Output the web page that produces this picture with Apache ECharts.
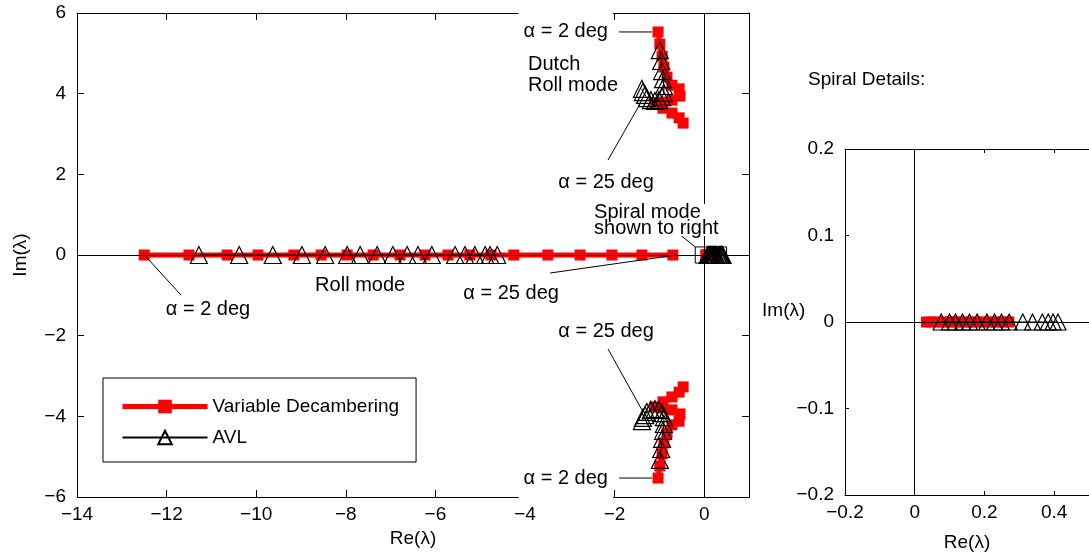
<!DOCTYPE html>
<html>
<head>
<meta charset="utf-8">
<script src="https://cdn.jsdelivr.net/npm/echarts@6/dist/echarts.min.js"></script>
<style>
html, body { margin: 0; padding: 0; background: #fff; }
#chart { width: 1089px; height: 558px; }
</style>
</head>
<body>
<div id="chart"></div>
<script>
var rollVD = [-12.50, -11.50, -10.65, -9.96, -9.16, -8.55, -7.97, -7.39, -6.79, -6.23, -5.72, -5.23, -4.76, -4.25, -3.49, -2.77, -2.06, -1.39, -0.70];
var rollAVL = [-11.28, -10.38, -9.63, -8.98, -8.46, -7.97, -7.68, -7.30, -6.95, -6.63, -6.39, -6.08, -5.56, -5.34, -5.12, -4.89, -4.78, -4.62];

var dutchVDRe = [-1.03, -0.99, -0.94, -0.90, -0.83, -0.72, -0.56, -0.54, -0.72, -0.94, -1.10, -0.92, -0.72, -0.56, -0.47];
var dutchVDIm = [5.53, 5.23, 4.93, 4.66, 4.41, 4.21, 4.12, 3.94, 3.84, 3.79, 3.77, 3.64, 3.52, 3.40, 3.27];
var dutchVDImLow = [-5.53, -5.23, -4.93, -4.66, -4.41, -4.21, -4.12, -3.94, -3.84, -3.79, -3.77, -3.64, -3.52, -3.40, -3.27];

var dutchAVLRe = [-0.99, -0.96, -0.94, -0.92, -0.90, -0.90, -0.94, -1.01, -1.10, -1.19, -1.28, -1.32, -1.37, -1.39];
var dutchAVLIm = [5.08, 4.81, 4.56, 4.36, 4.19, 4.02, 3.92, 3.84, 3.82, 3.84, 3.89, 3.97, 4.04, 4.12];
var dutchAVLImLow = [-5.08, -4.81, -4.56, -4.36, -4.19, -4.02, -3.92, -3.84, -3.82, -3.84, -3.89, -3.97, -4.04, -4.12];

var spiralVD = [0.034, 0.048, 0.066, 0.083, 0.102, 0.119, 0.138, 0.155, 0.176, 0.194, 0.213, 0.232, 0.251, 0.27];
var spiralAVL = [0.076, 0.10, 0.117, 0.137, 0.157, 0.179, 0.207, 0.229, 0.249, 0.271, 0.31, 0.338, 0.366, 0.383, 0.397, 0.411];

// box marking the region of the detail plot
var spiralBox = [[-0.2, -0.2], [0.5, 0.2]];

var legendNames = ['Variable Decambering', 'AVL'];

var font = '"Liberation Sans", Arial, sans-serif';

function pairs(re, im) {
  return re.map(function (x, i) { return [x, im ? im[i] : 0]; });
}
function minus(v) { return String(v).replace('-', '\u2212'); }

function vd(data, xi, yi) {
  return {
    name: legendNames[0], type: 'line', xAxisIndex: xi, yAxisIndex: yi, data: data,
    symbol: 'rect', symbolSize: 11, lineStyle: { color: '#ff0000', width: 5 },
    itemStyle: { color: '#ff0000' }, z: 2, silent: true
  };
}
function avl(data, xi, yi, size) {
  return {
    name: legendNames[1], type: 'line', xAxisIndex: xi, yAxisIndex: yi, data: data,
    symbol: 'triangle', symbolSize: size, lineStyle: { color: '#000', width: 1 },
    itemStyle: { color: 'rgba(255,255,255,0)', borderColor: '#000', borderWidth: 1.2 }, z: 3, silent: true
  };
}
var zeroLines = {
  silent: true, symbol: 'none', label: { show: false },
  lineStyle: { color: '#000', width: 1, type: 'solid' },
  emphasis: { disabled: true },
  data: [{ xAxis: 0 }, { yAxis: 0 }]
};

function xAx(grid, min, max, interval, pos, tick, extra) {
  var a = {
    gridIndex: grid, type: 'value', min: min, max: max, interval: interval, position: pos,
    axisLine: { show: true, onZero: false, lineStyle: { color: '#000', width: 1 } },
    axisTick: { show: true, inside: true, length: tick, lineStyle: { color: '#000' } },
    axisLabel: { show: pos === 'bottom', color: '#000', fontSize: 19, fontFamily: font, margin: 8, formatter: minus, showMaxLabel: false, hideOverlap: false },
    splitLine: { show: false }
  };
  return Object.assign(a, extra || {});
}
function yAx(grid, min, max, interval, pos, tick, extra) {
  var a = {
    gridIndex: grid, type: 'value', min: min, max: max, interval: interval, position: pos,
    axisLine: { show: true, onZero: false, lineStyle: { color: '#000', width: 1 } },
    axisTick: { show: true, inside: true, length: tick, lineStyle: { color: '#000' } },
    axisLabel: { show: pos === 'left', color: '#000', fontSize: 19, fontFamily: font, margin: 11, formatter: minus, hideOverlap: false },
    splitLine: { show: false }
  };
  return Object.assign(a, extra || {});
}

var nameStyle = { color: '#000', fontSize: 19, fontFamily: font };

var boxSeries = avl(pairs(spiralAVL), 0, 0, 17);
boxSeries.markArea = {
  silent: true,
  itemStyle: { color: 'rgba(0,0,0,0)', borderColor: '#000', borderWidth: 1 },
  data: [[{ coord: spiralBox[0] }, { coord: spiralBox[1] }]]
};
var rollAVLSeries = avl(pairs(rollAVL), 0, 0, 17);
rollAVLSeries.markLine = zeroLines;
var detailAVL = avl(pairs(spiralAVL), 2, 2, 16);
detailAVL.markLine = zeroLines;

var option = {
  animation: false,
  backgroundColor: '#fff',
  title: {
    text: 'Spiral Details:', left: 808, top: 70, padding: 0,
    textStyle: { color: '#000', fontSize: 19, fontWeight: 'normal', fontFamily: font }
  },
  grid: [
    { left: 77, top: 13, width: 672, height: 484 },
    { left: 845, top: 149, width: 250, height: 346 }
  ],
  xAxis: [
    xAx(0, -14, 1, 2, 'bottom', 7, { name: 'Re(\u03bb)', nameLocation: 'middle', nameGap: 26, nameTextStyle: nameStyle }),
    xAx(0, -14, 1, 2, 'top', 7),
    xAx(1, -0.2, 0.5, 0.2, 'bottom', 4, { name: 'Re(\u03bb)', nameLocation: 'middle', nameGap: 38, nameTextStyle: nameStyle }),
    xAx(1, -0.2, 0.5, 0.2, 'top', 4)
  ],
  yAxis: [
    yAx(0, -6, 6, 2, 'left', 7, { name: 'Im(\u03bb)', nameLocation: 'middle', nameRotate: 90, nameGap: 47, nameTextStyle: nameStyle }),
    yAx(0, -6, 6, 2, 'right', 7),
    yAx(1, -0.2, 0.2, 0.1, 'left', 4)
  ],
  legend: {
    left: 103, top: 378, orient: 'vertical', selectedMode: false,
    data: [
      { name: legendNames[0], lineStyle: { width: 5 } },
      { name: legendNames[1] }
    ],
    itemWidth: 85, itemHeight: 17, itemGap: 12, padding: [19, 17, 15, 17],
    borderColor: '#000', borderWidth: 1, backgroundColor: '#fff',
    textStyle: { color: '#000', fontSize: 19, fontFamily: font }
  },
  series: [
    vd(pairs(rollVD), 0, 0),
    vd(pairs(dutchVDRe, dutchVDIm), 0, 0),
    vd(pairs(dutchVDRe, dutchVDImLow), 0, 0),
    vd(pairs(spiralVD), 0, 0),
    rollAVLSeries,
    avl(pairs(dutchAVLRe, dutchAVLIm), 0, 0, 17),
    avl(pairs(dutchAVLRe, dutchAVLImLow), 0, 0, 17),
    boxSeries,
    vd(pairs(spiralVD), 2, 2),
    detailAVL
  ]
};

var chart = echarts.init(document.getElementById('chart'));
chart.setOption(option);

// annotations in data coordinates of the main plot (grid 0) and detail plot (grid 1)
var notes = [
  { text: '\u03b1 = 2 deg', at: [-2.036, 5.53], align: 'right', pad: [16, 5, 16, 5] },
  { text: '\u03b1 = 2 deg', at: [-2.036, -5.53], align: 'right', pad: [16, 5, 16, 5] },
  { text: 'Dutch\nRoll mode', at: [-3.955, 4.46], align: 'left', lh: 21 },
  { text: '\u03b1 = 25 deg', at: [-2.19, 1.81] },
  { text: '\u03b1 = 25 deg', at: [-2.19, -1.885] },
  { text: 'Spiral mode\nshown to right', at: [-2.48, 0.867], align: 'left', lh: 16 },
  { text: 'Roll mode', at: [-7.68, -0.744] },
  { text: '\u03b1 = 2 deg', at: [-12.04, -1.34], align: 'left' },
  { text: '\u03b1 = 25 deg', at: [-4.31, -0.943] },
  { text: 'Im(\u03bb)', at: [-0.376, 0.0127], grid: 1, bg: 'none', size: 19 }
];
var pointers = [
  [[-1.90, 5.53], [-1.165, 5.53]],
  [[-1.90, -5.53], [-1.165, -5.53]],
  [[-2.147, 2.355], [-1.433, 3.744]],
  [[-2.147, -2.331], [-1.388, -3.844]],
  [[-0.585, 0.545], [-0.2, 0.2]],
  [[-12.48, -0.02], [-11.68, -0.99]],
  [[-3.44, -0.447], [-0.62, 0]]
];

function px(p, g) { return chart.convertToPixel({ gridIndex: g || 0 }, p); }

var graphics = [];
pointers.forEach(function (l) {
  var a = px(l[0]), b = px(l[1]);
  graphics.push({ type: 'line', z: 99, silent: true,
    shape: { x1: a[0], y1: a[1], x2: b[0], y2: b[1] },
    style: { stroke: '#000', lineWidth: 1 } });
});
notes.forEach(function (n) {
  var p = px(n.at, n.grid);
  var st = { x: p[0], y: p[1], text: n.text, fill: '#000', fontSize: n.size || 20, fontFamily: font,
    align: n.align || 'center', verticalAlign: 'middle', lineHeight: n.lh || 19 };
  if (n.bg !== 'none') { st.backgroundColor = '#fff'; st.padding = n.pad || [0, 1]; }
  graphics.push({ type: 'text', z: 100, silent: true, style: st });
});
chart.setOption({ graphic: graphics });
</script>
</body>
</html>
